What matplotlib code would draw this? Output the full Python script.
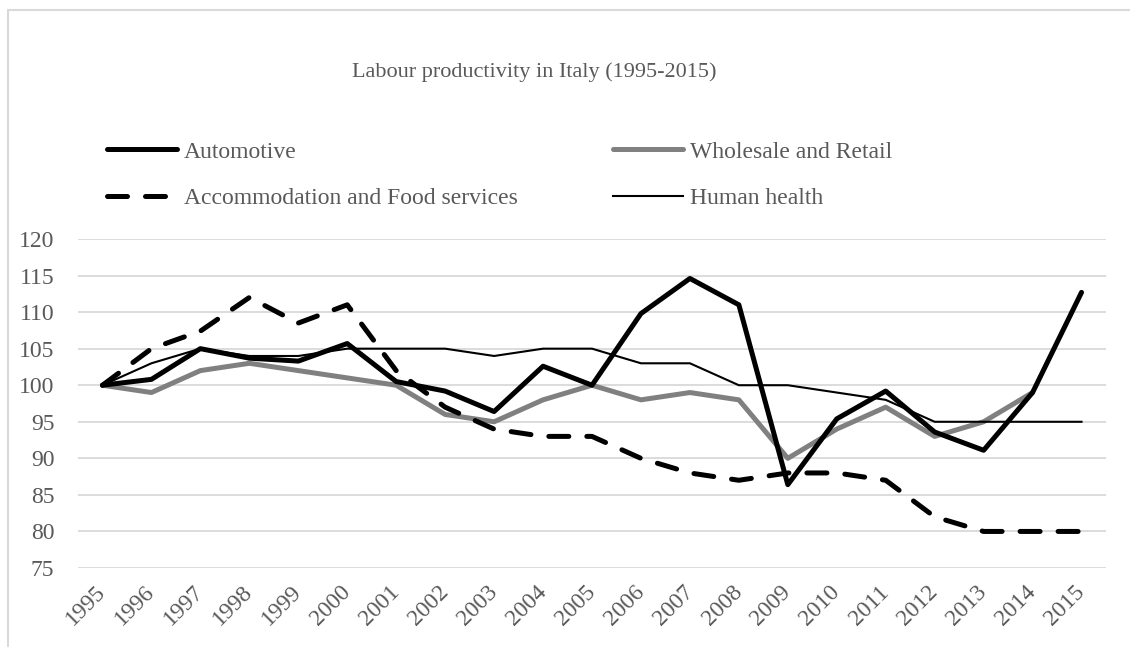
import matplotlib
matplotlib.use("Agg")
import matplotlib.pyplot as plt
from matplotlib.patches import Rectangle

# data (index 1995 = 100)
years = [str(y) for y in range(1995, 2016)]
automotive = [100, 100.8, 105, 103.7, 103.3, 105.7, 100.5, 99.2, 96.4, 102.6, 100,
              109.8, 114.6, 111, 86.4, 95.4, 99.2, 93.6, 91.1, 99, 112.7]
wholesale = [100, 99, 102, 103, 102, 101, 100, 96, 95, 98, 100,
             98, 99, 98, 90, 94, 97, 93, 95, 99]  # no 2015 value
accommodation = [100, 105, 107.4, 112, 108.5, 111, 102, 97, 94, 93, 93,
                 90, 88, 87, 88, 88, 87, 82, 80, 80, 80]
health = [100, 103, 105, 104, 104, 105, 105, 105, 104, 105, 105,
          103, 103, 100, 100, 99, 98, 95, 95, 95, 95]
y_ticks = list(range(75, 125, 5))

title = "Labour productivity in Italy (1995-2015)"
txt_col = "#595959"
grid_col = "#d9d9d9"

plt.rcParams["font.family"] = ["Liberation Serif", "DejaVu Serif"]

fig = plt.figure(figsize=[11.3, 6.47], dpi=100)

# chart area border (Excel style), only left and top edges show
fig.patches.append(Rectangle((8 / 1130, -0.1), 1.2, 1.1 - 10 / 647, transform=fig.transFigure,
                             fill=False, edgecolor=grid_col, linewidth=1.5))

ax = fig.add_axes([78 / 1130, 1 - 568 / 647, 1028 / 1130, 329 / 647])

x = list(range(len(years)))
l_auto, = ax.plot(x, automotive, color="black", lw=3.6, solid_joinstyle="round",
                  solid_capstyle="round", label="Automotive", zorder=4)
l_whole, = ax.plot(x[:len(wholesale)], wholesale, color="#808080", lw=3.6, solid_joinstyle="round",
                   solid_capstyle="round", label="Wholesale and Retail", zorder=3)
l_acc, = ax.plot(x, accommodation, color="black", lw=3.6, dashes=(4, 3.6), dash_capstyle="round",
                 dash_joinstyle="round", label="Accommodation and Food services", zorder=3)
l_health, = ax.plot(x, health, color="black", lw=1.5, solid_joinstyle="round",
                    label="Human health", zorder=3)

ax.set_xlim(-0.5, len(years) - 0.5)
ax.set_ylim(75, 120)
ax.set_yticks(y_ticks)
ax.set_xticks(x)
ax.set_xticklabels(years, rotation=45, ha="right", va="center", rotation_mode="anchor")
ax.tick_params(axis="both", length=0, labelsize=17, labelcolor=txt_col)
ax.tick_params(axis="y", pad=17)
ax.tick_params(axis="x", pad=15)
ax.yaxis.grid(True, color=grid_col, lw=1.3)
ax.set_axisbelow(True)
for s in ax.spines.values():
    s.set_visible(False)

fig.text(534 / 1130, 1 - 72 / 647, title, ha="center", va="center", fontsize=16, color=txt_col)

handles = [l_auto, l_acc, l_whole, l_health]
fig.legend(handles, [h.get_label() for h in handles],
           ncol=2, loc="upper left", bbox_to_anchor=(107 / 1130, 1 - 141 / 647),
           frameon=False, fontsize=17, labelcolor=txt_col, borderpad=0, borderaxespad=0,
           handlelength=2.95, handletextpad=0.3, columnspacing=4.05, labelspacing=1.05)

plt.savefig("out.png", dpi=100)
